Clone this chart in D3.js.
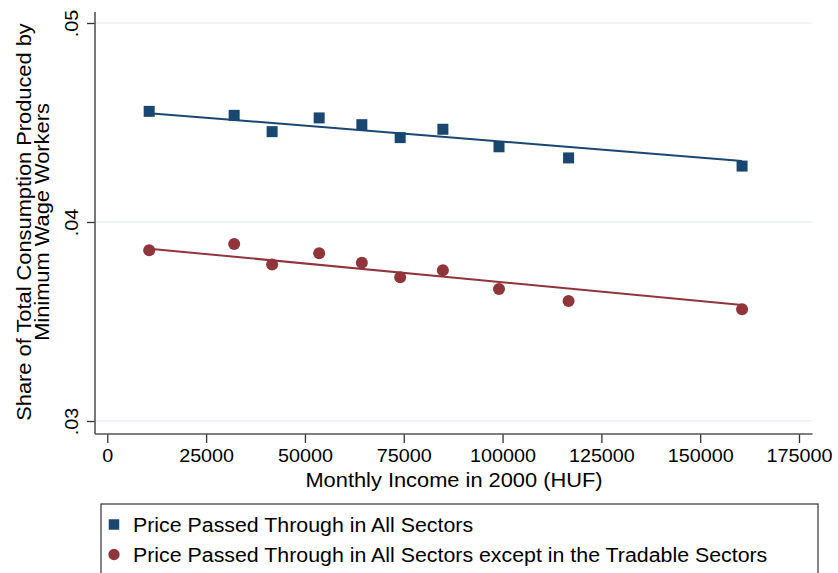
<!DOCTYPE html>
<html lang="en">
<head>
  <meta charset="UTF-8">
  <title>Minimum wage consumption share</title>
  <script src="https://d3js.org/d3.v7.min.js"></script>
  <style>
    body { margin: 0; background: #fff; }
    text { font-family: "Liberation Sans", Arial, sans-serif; fill: #000; }
  </style>
</head>
<body>
  <script>
    // monthly income groups (HUF, 2000)
    const income = [10600, 32100, 41700, 53600, 64400, 74100, 84900, 99100, 116700, 160600];
    // share of consumption produced by minimum wage workers
    const allSectors = [0.04556, 0.04536, 0.04454, 0.04523, 0.04489, 0.04424, 0.04466, 0.04378, 0.04322, 0.04281];
    const nonTradable = [0.03858, 0.03889, 0.03787, 0.03843, 0.03795, 0.03722, 0.03757, 0.03663, 0.03603, 0.03561];
    // fitted line values at the lowest and highest income group
    const fitAll = [0.04547, 0.04307];
    const fitNonTradable = [0.03866, 0.03583];

    const xTicks = [0, 25000, 50000, 75000, 100000, 125000, 150000, 175000];
    const yTicks = [0.03, 0.04, 0.05];
    const yTickLabels = ['.03', '.04', '.05'];
    const seriesNames = ['Price Passed Through in All Sectors',
      'Price Passed Through in All Sectors except in the Tradable Sectors'];
    const colors = ['#1a476f', '#90353b'];

    const w = 838;
    const h = 573;
    // the original type is a bit wider than Arial
    const stretch = 1.12;
    const legendStretch = 1.095;

    // plot region edges (axis lines)
    const plotLeft = 95, plotRight = 812.5, plotTop = 12, plotBottom = 434;

    const xScale = d3.scaleLinear()
      .domain([0, 175000])
      .range([107.3, 799]);

    const yScale = d3.scaleLinear()
      .domain([0.03, 0.05])
      .range([421, 23]);

    const svg = d3.select('body')
      .append('svg')
      .attr('width', w)
      .attr('height', h)

    // gridlines
    svg.selectAll('.grid')
      .data(yTicks)
      .enter()
      .append('line')
      .attr('x1', plotLeft)
      .attr('x2', plotRight)
      .attr('y1', d => yScale(d))
      .attr('y2', d => yScale(d))
      .attr('stroke', '#eaf2f3')
      .attr('stroke-width', 1.5)

    // x axis
    const xAxis = d3.axisBottom(xScale)
      .tickValues(xTicks)
      .tickFormat(d3.format('d'))
      .tickSize(9)
      .tickPadding(6)

    const gx = svg.append('g')
      .attr('transform', `translate(0,${plotBottom})`)
      .call(xAxis)
    gx.select('.domain').remove()
    gx.selectAll('line').attr('stroke', '#333').attr('stroke-width', 1.3)
    gx.selectAll('text').attr('font-size', 19).attr('font-family', '"Liberation Sans", Arial, sans-serif')
      .attr('transform', 'scale(1.04,1)')

    // y axis
    const yAxis = d3.axisLeft(yScale)
      .tickValues(yTicks)
      .tickFormat((d, i) => yTickLabels[i])
      .tickSize(8)

    const gy = svg.append('g')
      .attr('transform', `translate(${plotLeft},0)`)
      .call(yAxis)
    gy.select('.domain').remove()
    gy.selectAll('line').attr('stroke', '#333').attr('stroke-width', 1.3)
    gy.selectAll('text')
      .attr('font-size', 19)
      .attr('font-family', '"Liberation Sans", Arial, sans-serif')
      .attr('x', 0)
      .attr('dy', 0)
      .attr('text-anchor', 'middle')
      .attr('transform', 'translate(-17,0) rotate(-90) scale(1.04,1)')

    // axis lines
    svg.append('line')
      .attr('x1', plotLeft).attr('x2', plotRight)
      .attr('y1', plotBottom).attr('y2', plotBottom)
      .attr('stroke', '#555').attr('stroke-width', 1.6)
    svg.append('line')
      .attr('x1', plotLeft).attr('x2', plotLeft)
      .attr('y1', plotTop).attr('y2', plotBottom)
      .attr('stroke', '#555').attr('stroke-width', 1.6)

    // fitted lines
    const line = d3.line()
      .x(d => xScale(d[0]))
      .y(d => yScale(d[1]))

    const fits = [fitAll, fitNonTradable];
    const xEnds = [d3.min(income), d3.max(income)];
    fits.forEach((f, k) => {
      svg.append('path')
        .datum(xEnds.map((x, i) => [x, f[i]]))
        .attr('d', line)
        .attr('fill', 'none')
        .attr('stroke', colors[k])
        .attr('stroke-width', 2)
    })

    // markers
    svg.selectAll('.sq')
      .data(allSectors)
      .enter()
      .append('rect')
      .attr('x', (d, i) => xScale(income[i]) - 5.5)
      .attr('y', d => yScale(d) - 5.5)
      .attr('width', 11)
      .attr('height', 11)
      .attr('fill', colors[0])

    svg.selectAll('.dot')
      .data(nonTradable)
      .enter()
      .append('circle')
      .attr('cx', (d, i) => xScale(income[i]))
      .attr('cy', d => yScale(d))
      .attr('r', 6)
      .attr('fill', colors[1])

    // axis titles
    svg.append('text')
      .attr('transform', `translate(454,487) scale(${stretch},1)`)
      .attr('text-anchor', 'middle')
      .attr('font-size', 19.5)
      .text('Monthly Income in 2000 (HUF)')

    const yTitle = svg.append('text')
      .attr('transform', `translate(0,222) rotate(-90) scale(${stretch},1)`)
      .attr('text-anchor', 'middle')
      .attr('font-size', 19.5)
    yTitle.append('tspan').attr('x', 0).attr('y', 31).text('Share of Total Consumption Produced by')
    yTitle.append('tspan').attr('x', 0).attr('y', 49).text('Minimum Wage Workers')

    // legend
    svg.append('rect')
      .attr('x', 101)
      .attr('y', 504)
      .attr('width', 717)
      .attr('height', 80)
      .attr('fill', '#fff')
      .attr('stroke', '#333')
      .attr('stroke-width', 1.2)

    const lg = svg.selectAll('.lg')
      .data(seriesNames)
      .enter()
      .append('g')
      .attr('transform', (d, i) => `translate(0,${524.5 + i * 30})`)

    lg.append('path')
      .attr('transform', 'translate(114,0)')
      .attr('d', (d, i) => d3.symbol().type(i === 0 ? d3.symbolSquare : d3.symbolCircle).size(i === 0 ? 110 : 100)())
      .attr('fill', (d, i) => colors[i])

    lg.append('text')
      .attr('transform', `translate(133,7) scale(${legendStretch},1)`)
      .attr('font-size', 19.5)
      .text(d => d)
  </script>
</body>
</html>
